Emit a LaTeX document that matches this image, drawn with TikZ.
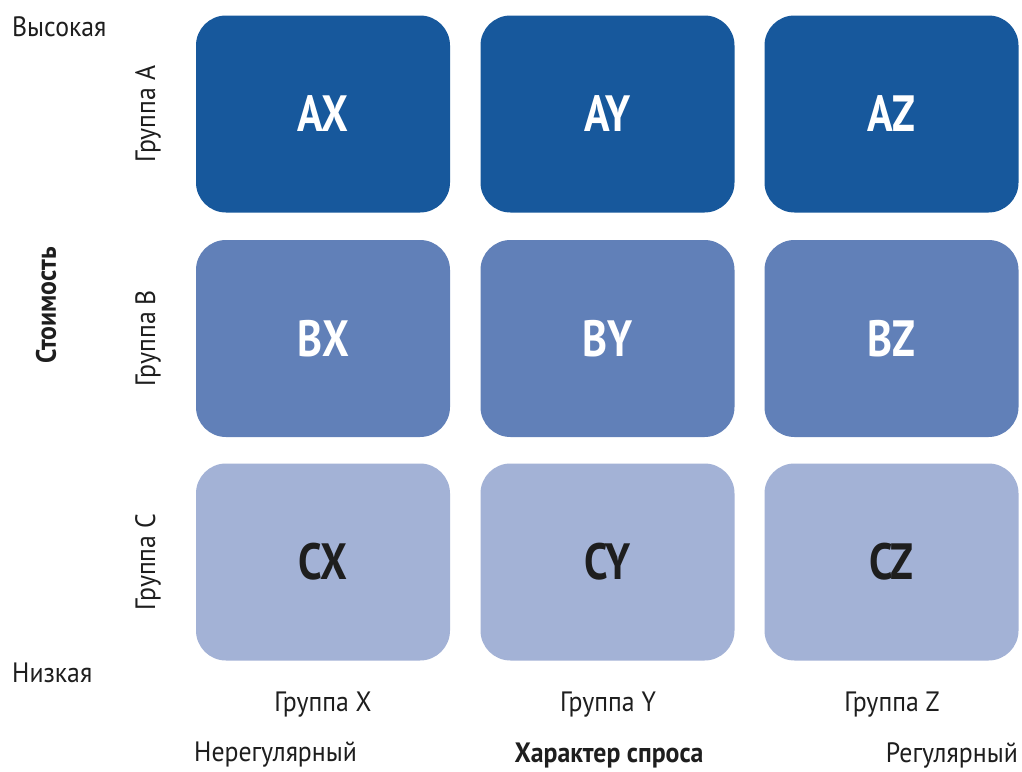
\documentclass[tikz,border=0pt]{standalone}
\usepackage{fontspec}
\setmainfont[FakeStretch=0.92]{PT Sans}
\newfontfamily\bigfont[FakeStretch=0.83]{PT Sans}
\definecolor{cA}{RGB}{23,88,156}
\definecolor{cB}{RGB}{97,128,184}
\definecolor{cC}{RGB}{163,178,214}
\definecolor{ink}{RGB}{30,30,30}
\begin{document}
\begin{tikzpicture}[x=1pt,y=-1pt,
  cell/.style={rounded corners=30pt, minimum width=254pt, minimum height=197pt, inner sep=0pt,
    font=\bigfont\fontsize{51}{56}\selectfont\bfseries},
  lbl/.style={inner sep=0pt, text=ink, font=\fontsize{28}{30}\selectfont},
  blbl/.style={inner sep=0pt, text=ink, font=\fontsize{28}{30}\selectfont\bfseries}]
\useasboundingbox (0,0) rectangle (1022,771);
\fill[white] (0,0) rectangle (1022,771);
% cells
\node[cell, fill=cA, text=white] (AX) at (323,114) {AX};
\node[cell, fill=cA, text=white] (AY) at (607.5,114) {AY};
\node[cell, fill=cA, text=white] (AZ) at (891.5,114) {AZ};
\node[cell, fill=cB, text=white] (BX) at (323,338.5) {BX};
\node[cell, fill=cB, text=white] (BY) at (607.5,338.5) {BY};
\node[cell, fill=cB, text=white] (BZ) at (891.5,338.5) {BZ};
\node[cell, fill=cC, text=ink] (CX) at (323,562) {CX};
\node[cell, fill=cC, text=ink] (CY) at (607.5,562) {CY};
\node[cell, fill=cC, text=ink] (CZ) at (891.5,562) {CZ};
% row labels
\node[lbl, rotate=90] (gA) at (148,114) {Группа A};
\node[lbl, rotate=90] (gB) at (148,338.5) {Группа B};
\node[lbl, rotate=90] (gC) at (148,562) {Группа C};
\node[blbl, rotate=90] (cost) at (46,305) {Стоимость};
\node[lbl, anchor=west] (high) at (12,27) {Высокая};
\node[lbl, anchor=west] (low) at (12,673) {Низкая};
% column labels
\node[lbl] (gX) at (323,705) {Группа X};
\node[lbl] (gY) at (608,705) {Группа Y};
\node[lbl] (gZ) at (892,705) {Группа Z};
\node[lbl, anchor=west] (irr) at (194,755) {Нерегулярный};
\node[blbl] (dem) at (609,755) {Характер спроса};
\node[lbl, anchor=east] (reg) at (1018,755) {Регулярный};
\end{tikzpicture}
\end{document}
